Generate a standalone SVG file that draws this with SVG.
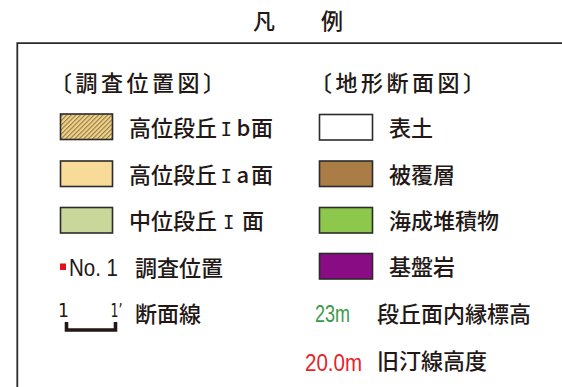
<svg xmlns="http://www.w3.org/2000/svg" width="562" height="387" viewBox="0 0 562 387">
<style>
.t{font-family:"Noto Sans CJK JP","Noto Sans",sans-serif;font-size:22px;font-weight:500;fill:#231815}
.h{letter-spacing:3.5px}
.n{font-family:"Liberation Sans","Noto Sans",sans-serif;font-size:23px}
.r{font-family:"DejaVu Sans Mono","Liberation Mono",monospace;font-size:19px;font-weight:normal}
.d{font-family:"DejaVu Sans","Liberation Sans",sans-serif;font-size:20px;fill:#231815}
.sw{stroke:#2b2b2b;stroke-width:1.6}
</style>
<defs>
<pattern id="hatch" patternUnits="userSpaceOnUse" width="3.2" height="3.2" patternTransform="rotate(45)">
<rect width="3.2" height="3.2" fill="#ecd391"/>
<rect width="1.1" height="3.2" fill="#9c7a3c"/>
</pattern>
</defs>
<rect width="562" height="387" fill="#ffffff"/>
<g id="title">
<text class="t" x="253" y="29" font-size="20">凡</text>
<text class="t" x="321" y="29" font-size="20">例</text>
</g>
<g id="frame"><path d="M17.3,387 V43.2 H562" fill="none" stroke="#2b2b2b" stroke-width="1.8"/></g>
<g id="header-left"><text class="t h" x="50" y="91">〔調査位置図〕</text></g>
<g id="header-right"><text class="t h" x="310" y="91">〔地形断面図〕</text></g>
<g id="high-Ib"><rect class="sw" x="60.5" y="114" width="52" height="25.5" fill="url(#hatch)"/><text class="t" y="136"><tspan x="129">高位段丘</tspan><tspan class="r" x="220.5">I</tspan><tspan x="236.5">b</tspan><tspan x="251">面</tspan></text></g>
<g id="high-Ia"><rect class="sw" x="60.5" y="161" width="52" height="25.5" fill="#f8db98"/><text class="t" y="183"><tspan x="129">高位段丘</tspan><tspan class="r" x="220.5">I</tspan><tspan x="236.5">a</tspan><tspan x="251">面</tspan></text></g>
<g id="middle-I"><rect class="sw" x="60.5" y="207.5" width="52" height="25.5" fill="#c9d79b"/><text class="t" y="229"><tspan x="129">中位段丘</tspan><tspan class="r" x="223">I</tspan><tspan x="242">面</tspan></text></g>
<g id="survey-point"><rect x="60" y="263.5" width="6" height="6.5" fill="#e60f1e"/><text class="n" x="69" y="275.5" textLength="49" lengthAdjust="spacingAndGlyphs" fill="#231815">No. 1</text><text class="t" x="135" y="276">調査位置</text></g>
<g id="section-line"><text class="d" x="58" y="317" textLength="11" lengthAdjust="spacingAndGlyphs">1</text><text class="d" x="110.5" y="317" textLength="12" lengthAdjust="spacingAndGlyphs">1’</text><path d="M66.5,322 V330 H115.5 V322" fill="none" stroke="#231815" stroke-width="3.6"/><text class="t" x="135" y="322">断面線</text></g>
<g id="topsoil"><rect class="sw" x="319.5" y="114.5" width="53" height="25.5" fill="#ffffff"/><text class="t" x="389" y="136">表土</text></g>
<g id="cover"><rect class="sw" x="319.5" y="161" width="53" height="25.5" fill="#aa7c46"/><text class="t" x="389" y="183">被覆層</text></g>
<g id="marine"><rect class="sw" x="319.5" y="207.5" width="53" height="25.5" fill="#8dc74c"/><text class="t" x="389" y="229">海成堆積物</text></g>
<g id="bedrock"><rect class="sw" x="319.5" y="253.5" width="53" height="25.5" fill="#8a0c84"/><text class="t" x="389" y="275">基盤岩</text></g>
<g id="inner-edge"><text class="n" x="315" y="321.5" textLength="35" lengthAdjust="spacingAndGlyphs" fill="#3a9a4a">23m</text><text class="t" x="377" y="322">段丘面内縁標高</text></g>
<g id="shoreline"><text class="n" x="305" y="371" textLength="57" lengthAdjust="spacingAndGlyphs" fill="#e5232b">20.0m</text><text class="t" x="377" y="369">旧汀線高度</text></g>
</svg>
